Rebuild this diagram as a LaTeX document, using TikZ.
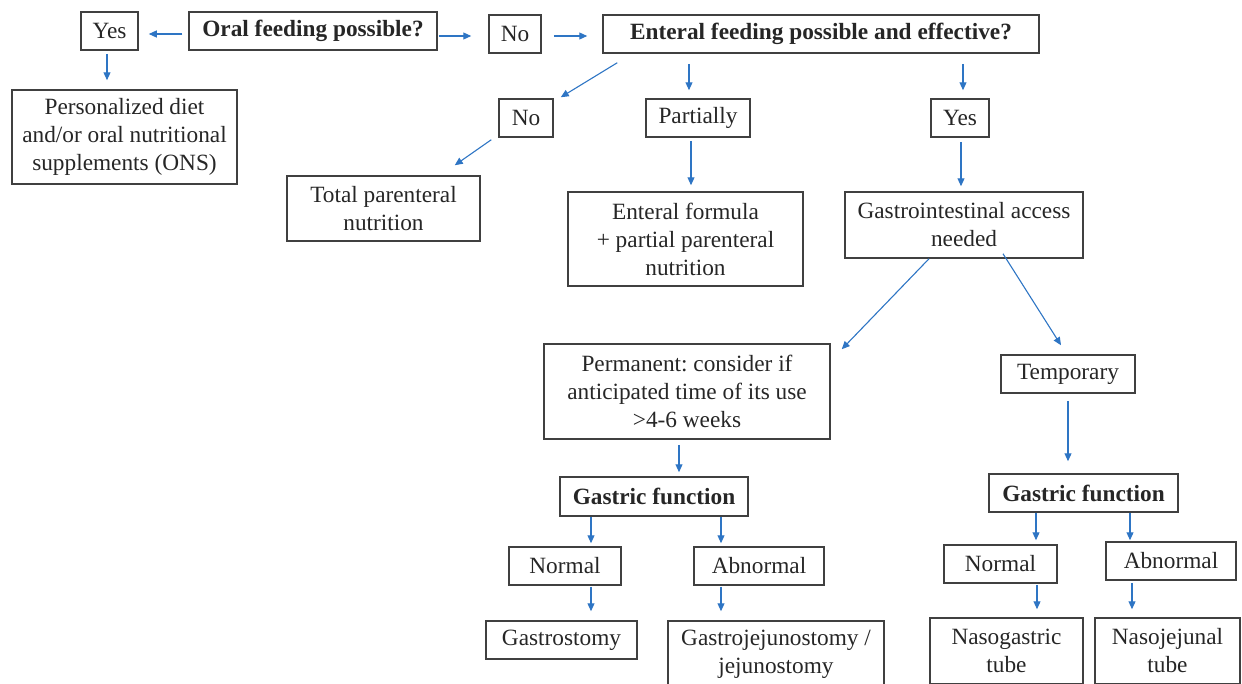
\documentclass[tikz,border=0pt]{standalone}
\usepackage{fontspec}
\setmainfont{Liberation Serif}
\usetikzlibrary{arrows.meta}
\usetikzlibrary{calc}
\definecolor{arrowblue}{RGB}{46,117,196}
\definecolor{boxgray}{RGB}{64,64,64}
\frenchspacing

\begin{document}
\begin{tikzpicture}[x=1pt, y=-1pt,
    Box/.style 2 args={draw=boxgray, line width=1.5pt, inner sep=0pt, align=center, text=black!85,
        minimum width=#1pt, minimum height=#2pt, font=\fontsize{23.3}{28}\selectfont},
    Bold/.style={font=\fontsize{23.3}{28}\selectfont\bfseries},
    Arrow/.style={draw=arrowblue, line width=1.1pt, -{Triangle[length=8pt,width=7pt]}}]
        \useasboundingbox (0,0) rectangle (1242,683);

        \node[Box={57}{38}] (yesA) at (109.5,31) {Yes};
        \node[Box={248}{38}, Bold] (oral) at (313,31) {Oral feeding possible?};
        \node[Box={52}{38}] (noA) at (515,34) {No};
        \node[Box={436}{38}, Bold] (ent) at (821,34) {Enteral feeding possible and effective?};
        \node[Box={225}{94}] (pers) at (124.5,137) {Personalized diet\\and/or oral nutritional\\supplements (ONS)};
        \node[Box={54}{38}] (noB) at (526,118) {No};
        \node[Box={104}{38}] (part) at (698,118) {Partially};
        \node[Box={58}{38}] (yesB) at (960,118) {Yes};
        \node[Box={193}{65}] (tpn) at (383.5,208.5) {Total parenteral\\nutrition};
        \node[Box={235}{94}] (ef) at (685.5,239) {Enteral formula\\+ partial parenteral\\nutrition};
        \node[Box={238}{66}] (gi) at (964,225) {Gastrointestinal access\\needed};
        \node[Box={286}{95}] (perm) at (687,391.5) {Permanent: consider if\\anticipated time of its use\\>4-6 weeks};
        \node[Box={134}{38}] (temp) at (1068,374) {Temporary};
        \node[Box={188}{39}, Bold] (gfA) at (654,496.5) {Gastric function};
        \node[Box={189}{38}, Bold] (gfB) at (1083.5,493) {Gastric function};
        \node[Box={112}{38}] (normA) at (565,566) {Normal};
        \node[Box={130}{38}] (abnA) at (759,566) {Abnormal};
        \node[Box={113}{38}] (normB) at (1000.5,564) {Normal};
        \node[Box={130}{38}] (abnB) at (1171,561) {Abnormal};
        \node[Box={151}{38}] (gast) at (561.5,640) {Gastrostomy};
        \node[Box={216}{66}] (gj) at (776,654) {Gastrojejunostomy /\\jejunostomy};
        \node[Box={153}{66}] (ng) at (1006.5,651) {Nasogastric\\tube};
        \node[Box={145}{66}] (nj) at (1167.5,651) {Nasojejunal\\tube};

        % top row
        \draw[Arrow, shorten <=6pt, shorten >=10pt] (oral.west |- 0,34) -- (yesA.east |- 0,34);
        \draw[Arrow, shorten <=3pt, shorten >=9pt] (yesA.south -| 107,0) -- (pers.north -| 107,0);
        \draw[Arrow, shorten <=1pt, shorten >=17pt] (oral.east |- 0,36) -- (noA.west |- 0,36);
        \draw[Arrow, shorten <=12pt, shorten >=15pt] (noA.east |- 0,36) -- (ent.west |- 0,36);

        % enteral feeding
        \draw[Arrow] ($(ent.south west)+(15,9)$) -- ($(noB.north east)+(7,-1)$);
        \draw[Arrow, shorten <=10pt, shorten >=8pt] (ent.south -| 689,0) -- (part.north -| 689,0);
        \draw[Arrow, shorten <=10pt, shorten >=8pt] (ent.south -| 963,0) -- (yesB.north -| 963,0);
        \draw[Arrow] ($(noB.south west)+(-7,2)$) -- ($(tpn.north east)+(-26,-10)$);
        \draw[Arrow, shorten <=3pt, shorten >=6pt] (part.south -| 691,0) -- (ef.north -| 691,0);
        \draw[Arrow, shorten <=4pt, shorten >=5pt] (yesB.south -| 961,0) -- (gi.north -| 961,0);

        % access
        \draw[Arrow] ($(gi.south)+(-35,0)$) -- ($(perm.north east)+(11,6)$);
        \draw[Arrow] ($(gi.south)+(39,-5)$) -- ($(temp.north)+(-7,-9)$);
        \draw[Arrow, shorten <=5pt, shorten >=4pt] (perm.south -| 679,0) -- (gfA.north -| 679,0);
        \draw[Arrow, shorten <=7pt, shorten >=12pt] (temp.south -| 1068,0) -- (gfB.north -| 1068,0);

        % gastric function
        \draw[Arrow, shorten >=3pt] (gfA.south -| 591,0) -- (normA.north -| 591,0);
        \draw[Arrow, shorten >=3pt] (gfA.south -| 721,0) -- (abnA.north -| 721,0);
        \draw[Arrow, shorten <=1pt, shorten >=9pt] (normA.south -| 591,0) -- (gast.north -| 591,0);
        \draw[Arrow, shorten <=1pt, shorten >=9pt] (abnA.south -| 721,0) -- (gj.north -| 721,0);
        \draw[Arrow, shorten >=4pt] (gfB.south -| 1036,0) -- (normB.north -| 1036,0);
        \draw[Arrow, shorten >=1pt] (gfB.south -| 1130,0) -- (abnB.north -| 1130,0);
        \draw[Arrow, shorten <=1pt, shorten >=8pt] (normB.south -| 1037,0) -- (ng.north -| 1037,0);
        \draw[Arrow, shorten <=2pt, shorten >=8pt] (abnB.south -| 1132,0) -- (nj.north -| 1132,0);
    \end{tikzpicture}
\end{document}
